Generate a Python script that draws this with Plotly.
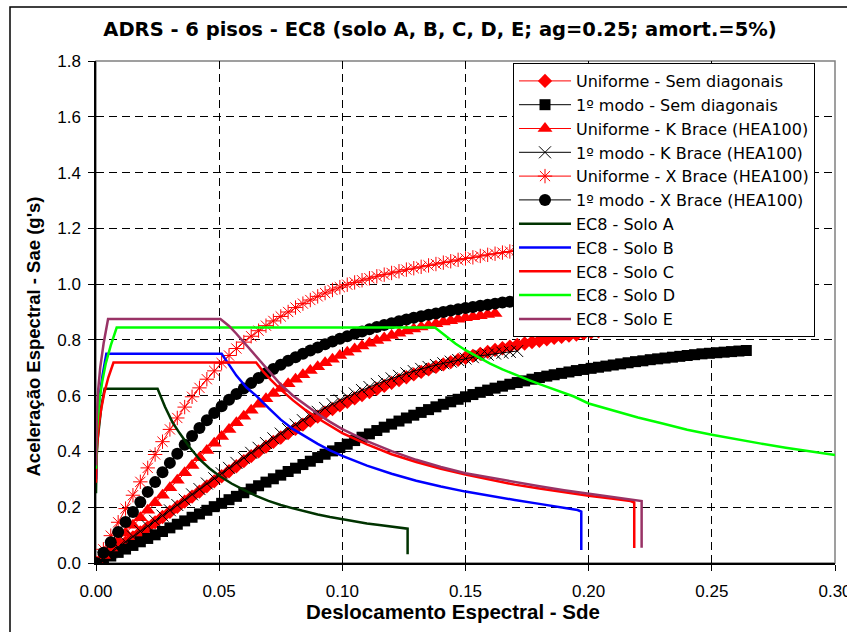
import plotly.graph_objects as go

# ---------------- data ----------------
# spectral displacement steps of the capacity (pushover) curves
sd = [0.000, 0.003, 0.006, 0.009, 0.012, 0.015, 0.018, 0.021, 0.024, 0.027,
      0.030, 0.033, 0.036, 0.039, 0.042, 0.045, 0.048, 0.051, 0.054, 0.057,
      0.060, 0.063, 0.066, 0.069, 0.072, 0.075, 0.078, 0.081, 0.084, 0.087,
      0.090, 0.093, 0.096, 0.099, 0.102, 0.105, 0.108, 0.111, 0.114, 0.117,
      0.120, 0.123, 0.126, 0.129, 0.132, 0.135, 0.138, 0.141, 0.144, 0.147,
      0.150, 0.153, 0.156, 0.159, 0.162, 0.165, 0.168, 0.171, 0.174, 0.177,
      0.180, 0.183, 0.186, 0.189, 0.192, 0.195, 0.198, 0.201, 0.204, 0.207,
      0.210, 0.213, 0.216, 0.219, 0.222, 0.225, 0.228, 0.231, 0.234, 0.237,
      0.240, 0.243, 0.246, 0.249, 0.252, 0.255, 0.258, 0.261, 0.264]

sa_unif_sem = [0.000, 0.018, 0.037, 0.055, 0.073, 0.092, 0.110, 0.128, 0.146, 0.165,
               0.183, 0.201, 0.220, 0.238, 0.256, 0.275, 0.293, 0.311, 0.329, 0.347,
               0.365, 0.383, 0.400, 0.417, 0.434, 0.450, 0.466, 0.481, 0.496, 0.511,
               0.525, 0.539, 0.552, 0.565, 0.578, 0.590, 0.602, 0.613, 0.624, 0.635,
               0.646, 0.656, 0.666, 0.676, 0.685, 0.694, 0.703, 0.712, 0.720, 0.728,
               0.736, 0.743, 0.750, 0.757, 0.764, 0.770, 0.776, 0.782, 0.787, 0.792,
               0.797, 0.802, 0.807, 0.811, 0.815, 0.819, 0.823, 0.827, 0.831, 0.835,
               0.839, 0.843, 0.846, 0.849, 0.852, 0.855]

sa_modo_sem = [0.000, 0.013, 0.025, 0.038, 0.050, 0.063, 0.076, 0.088, 0.101, 0.113,
               0.126, 0.139, 0.151, 0.164, 0.176, 0.189, 0.202, 0.214, 0.227, 0.239,
               0.252, 0.265, 0.277, 0.290, 0.302, 0.315, 0.328, 0.340, 0.353, 0.365,
               0.378, 0.390, 0.402, 0.414, 0.426, 0.439, 0.451, 0.463, 0.475, 0.487,
               0.498, 0.509, 0.520, 0.530, 0.540, 0.550, 0.560, 0.569, 0.578, 0.587,
               0.596, 0.604, 0.612, 0.620, 0.627, 0.634, 0.641, 0.647, 0.653, 0.659,
               0.665, 0.670, 0.675, 0.680, 0.685, 0.690, 0.694, 0.698, 0.702, 0.706,
               0.710, 0.714, 0.718, 0.722, 0.725, 0.729, 0.732, 0.735, 0.738, 0.741,
               0.744, 0.747, 0.750, 0.752, 0.754, 0.756, 0.758, 0.760, 0.762]

sa_unif_k = [0.000, 0.027, 0.054, 0.081, 0.108, 0.135, 0.162, 0.189, 0.216, 0.243,
             0.270, 0.297, 0.324, 0.350, 0.377, 0.403, 0.429, 0.454, 0.479, 0.503,
             0.526, 0.548, 0.569, 0.589, 0.608, 0.626, 0.643, 0.659, 0.675, 0.690,
             0.704, 0.718, 0.731, 0.744, 0.756, 0.767, 0.778, 0.788, 0.798, 0.807,
             0.816, 0.824, 0.832, 0.839, 0.846, 0.852, 0.858, 0.864, 0.869, 0.874,
             0.879, 0.883, 0.887, 0.891, 0.895]

sa_modo_k = [0.000, 0.019, 0.038, 0.057, 0.076, 0.095, 0.114, 0.132, 0.151, 0.170,
             0.189, 0.208, 0.227, 0.246, 0.265, 0.285, 0.304, 0.322, 0.341, 0.359,
             0.377, 0.395, 0.413, 0.430, 0.447, 0.464, 0.480, 0.496, 0.512, 0.527,
             0.542, 0.556, 0.570, 0.583, 0.596, 0.608, 0.620, 0.631, 0.642, 0.652,
             0.662, 0.671, 0.680, 0.688, 0.696, 0.703, 0.710, 0.716, 0.722, 0.728,
             0.733, 0.738, 0.743, 0.747, 0.751, 0.754, 0.757, 0.760]

sa_unif_x = [0.000, 0.049, 0.098, 0.146, 0.195, 0.243, 0.291, 0.341, 0.389, 0.435,
             0.479, 0.520, 0.559, 0.596, 0.628, 0.659, 0.689, 0.717, 0.744, 0.769,
             0.792, 0.813, 0.833, 0.851, 0.868, 0.884, 0.900, 0.916, 0.930, 0.943,
             0.956, 0.968, 0.979, 0.989, 0.998, 1.006, 1.014, 1.021, 1.028, 1.034,
             1.040, 1.046, 1.052, 1.057, 1.062, 1.067, 1.072, 1.077, 1.082, 1.087,
             1.092, 1.096, 1.101, 1.105, 1.109, 1.113, 1.117, 1.121, 1.124, 1.128,
             1.131]

sa_modo_x = [0.000, 0.037, 0.074, 0.111, 0.147, 0.183, 0.219, 0.255, 0.290, 0.325,
             0.359, 0.392, 0.424, 0.455, 0.484, 0.512, 0.538, 0.562, 0.585, 0.606,
             0.626, 0.645, 0.663, 0.680, 0.696, 0.711, 0.725, 0.738, 0.750, 0.762,
             0.773, 0.784, 0.794, 0.804, 0.813, 0.822, 0.830, 0.838, 0.846, 0.853,
             0.860, 0.867, 0.873, 0.879, 0.885, 0.890, 0.895, 0.900, 0.905, 0.910,
             0.914, 0.918, 0.922, 0.926, 0.930, 0.934, 0.937, 0.940, 0.943, 0.946,
             0.949]

# EC8 response spectra (ADRS), ag = 0.25, 5% damping
sd_A = [0.0, 0.00005, 0.00023, 0.0006, 0.00124, 0.00218, 0.0035, 0.0250, 0.0280, 0.0310,
        0.0340, 0.0380, 0.0420, 0.0460, 0.0500, 0.0550, 0.0600, 0.0650, 0.0700, 0.0750,
        0.0800, 0.0850, 0.0900, 0.0950, 0.1000, 0.1050, 0.1100, 0.1150, 0.1200, 0.1265, 0.1265]
sa_A = [0.250, 0.3125, 0.375, 0.4375, 0.500, 0.5625, 0.625, 0.625, 0.560, 0.505,
        0.465, 0.415, 0.372, 0.340, 0.313, 0.285, 0.262, 0.241, 0.223, 0.208,
        0.196, 0.184, 0.174, 0.165, 0.157, 0.149, 0.142, 0.136, 0.130, 0.123, 0.031]

sd_B = [0.0, 0.00007, 0.00028, 0.0007, 0.0015, 0.0027, 0.0042, 0.0510, 0.0540, 0.0570,
        0.0610, 0.0650, 0.0700, 0.0750, 0.0800, 0.0850, 0.0900, 0.0950, 0.1000, 0.1100,
        0.1200, 0.1300, 0.1400, 0.1500, 0.1600, 0.1700, 0.1800, 0.1900, 0.1955, 0.1970, 0.1970]
sa_B = [0.300, 0.375, 0.450, 0.525, 0.600, 0.675, 0.750, 0.750, 0.712, 0.672,
        0.630, 0.600, 0.556, 0.514, 0.480, 0.452, 0.427, 0.404, 0.384, 0.349,
        0.320, 0.295, 0.274, 0.256, 0.240, 0.226, 0.212, 0.199, 0.190, 0.184, 0.047]

sd_C = [0.0, 0.00006, 0.00025, 0.0007, 0.00125, 0.0022, 0.0034, 0.0050, 0.0071, 0.0650,
        0.0680, 0.0710, 0.0750, 0.0800, 0.0850, 0.0900, 0.0950, 0.1000, 0.1100, 0.1200,
        0.1300, 0.1400, 0.1500, 0.1600, 0.1700, 0.1800, 0.1900, 0.2000, 0.2100, 0.2170,
        0.2185, 0.2185]
sa_C = [0.2875, 0.341, 0.395, 0.449, 0.503, 0.557, 0.611, 0.665, 0.719, 0.719,
        0.685, 0.657, 0.622, 0.583, 0.549, 0.519, 0.491, 0.466, 0.425, 0.390,
        0.362, 0.338, 0.317, 0.298, 0.281, 0.267, 0.253, 0.241, 0.230, 0.222,
        0.217, 0.054]

sd_D = [0.0, 0.00007, 0.00029, 0.0008, 0.0015, 0.0026, 0.0040, 0.0060, 0.0084, 0.1376,
        0.1420, 0.1460, 0.1500, 0.1550, 0.1600, 0.1650, 0.1700, 0.1760, 0.1820, 0.1880,
        0.1940, 0.2000, 0.2100, 0.2200, 0.2300, 0.2400, 0.2500, 0.2600, 0.2700, 0.2800,
        0.2900, 0.3000, 0.3100, 0.3200]
sa_D = [0.3375, 0.401, 0.464, 0.527, 0.591, 0.654, 0.717, 0.780, 0.844, 0.844,
        0.812, 0.786, 0.763, 0.738, 0.715, 0.694, 0.675, 0.655, 0.635, 0.615,
        0.597, 0.572, 0.546, 0.522, 0.500, 0.478, 0.460, 0.443, 0.428, 0.413,
        0.399, 0.386, 0.373, 0.361]

sd_E = [0.0, 0.00008, 0.00033, 0.0008, 0.0017, 0.0031, 0.0049, 0.0505, 0.0540, 0.0570,
        0.0610, 0.0650, 0.0700, 0.0750, 0.0800, 0.0850, 0.0900, 0.0950, 0.1000, 0.1100,
        0.1200, 0.1300, 0.1400, 0.1500, 0.1600, 0.1700, 0.1800, 0.1900, 0.2000, 0.2100,
        0.2200, 0.2215, 0.2215]
sa_E = [0.350, 0.438, 0.525, 0.613, 0.700, 0.788, 0.875, 0.875, 0.850, 0.822,
        0.782, 0.742, 0.688, 0.640, 0.600, 0.566, 0.535, 0.506, 0.480, 0.437,
        0.401, 0.370, 0.344, 0.322, 0.306, 0.290, 0.275, 0.261, 0.249, 0.237,
        0.226, 0.222, 0.055]

x_ticks = [0.00, 0.05, 0.10, 0.15, 0.20, 0.25, 0.30]
y_ticks = [0.0, 0.2, 0.4, 0.6, 0.8, 1.0, 1.2, 1.4, 1.6, 1.8]

# ---------------- figure ----------------
FONT = "Liberation Sans, Arial, sans-serif"
WIDE = "DejaVu Sans, Verdana, sans-serif"
W, H = 847, 632
L, R, T, B = 96, 12, 61, 69
pw, ph = W - L - R, H - T - B


def px_x(px):
    return (px - L) / pw


def px_y(py):
    return (H - B - py) / ph


fig = go.Figure()

cap_series = [
    ("Uniforme - Sem diagonais", sa_unif_sem, "#FF0000", dict(symbol="diamond", size=11, color="#FF0000")),
    ("1º modo - Sem diagonais", sa_modo_sem, "#000000", dict(symbol="square", size=11, color="#000000")),
    ("Uniforme - K Brace (HEA100)", sa_unif_k, "#FF0000", dict(symbol="triangle-up", size=13, color="#FF0000")),
    ("1º modo - K Brace (HEA100)", sa_modo_k, "#000000",
     dict(symbol="x-thin-open", size=12, color="#000000", line=dict(color="#000000", width=1))),
    ("Uniforme - X Brace (HEA100)", sa_unif_x, "#FF0000",
     dict(symbol="asterisk-open", size=12, color="#FF0000", line=dict(color="#FF0000", width=1))),
    ("1º modo - X Brace (HEA100)", sa_modo_x, "#000000", dict(symbol="circle", size=12, color="#000000")),
]
for name, ys, col, mk in cap_series:
    fig.add_trace(go.Scatter(x=sd[:len(ys)], y=ys, name=name, mode="lines+markers",
                             line=dict(color=col, width=1), marker=mk))

ec8_series = [
    ("EC8 - Solo A", sd_A, sa_A, "#003300"),
    ("EC8 - Solo B", sd_B, sa_B, "#0000FF"),
    ("EC8 - Solo C", sd_C, sa_C, "#FF0000"),
    ("EC8 - Solo D", sd_D, sa_D, "#00FF00"),
    ("EC8 - Solo E", sd_E, sa_E, "#993366"),
]
for name, xs, ys, col in ec8_series:
    fig.add_trace(go.Scatter(x=xs, y=ys, name=name, mode="lines",
                             line=dict(color=col, width=2.5)))

axis_common = dict(showgrid=True, gridcolor="#000000", gridwidth=1, griddash="8px,5px",
                   zeroline=False, showline=True, linecolor="#000000", linewidth=1.5,
                   ticks="outside", ticklen=6, tickcolor="#000000", tickwidth=1,
                   ticklabeloverflow="allow",
                   tickfont=dict(family=FONT, size=17, color="#000000"))

fig.update_xaxes(range=[0, 0.30], tickvals=x_ticks, tickformat=".2f",
                 ticklabelstandoff=6, **axis_common)
fig.update_yaxes(range=[0, 1.8], tickvals=y_ticks, tickformat=".1f",
                 ticklabelstandoff=4, **axis_common)

fig.update_layout(
    width=W, height=H,
    margin=dict(l=L, r=R, t=T, b=B, autoexpand=False),
    paper_bgcolor="#FFFFFF", plot_bgcolor="#FFFFFF",
    font=dict(family=FONT, color="#000000"),
    title=dict(text="<b>ADRS - 6 pisos - EC8 (solo A, B, C, D, E; ag=0.25; amort.=5%)</b>",
               x=440 / W, xanchor="center", xref="container",
               y=1 - 29 / H, yanchor="middle", yref="container",
               font=dict(family=WIDE, size=19.5, color="#000000")),
    legend=dict(x=px_x(513), y=px_y(63), xanchor="left", yanchor="top",
                bgcolor="#FFFFFF", bordercolor="#000000", borderwidth=1,
                font=dict(family=WIDE, size=16, color="#000000"),
                itemwidth=52, tracegroupgap=0),
    showlegend=True,
    annotations=[
        dict(text="<b>Deslocamento Espectral - Sde</b>", xref="paper", yref="paper",
             x=px_x(452.5), y=px_y(611), xanchor="center", yanchor="middle",
             showarrow=False, font=dict(family=FONT, size=20.5, color="#000000")),
        dict(text="<b>Aceleração Espectral - Sae (g's)</b>", xref="paper", yref="paper",
             x=px_x(33), y=px_y(336.5), xanchor="center", yanchor="middle", textangle=-90,
             showarrow=False, font=dict(family=FONT, size=18.5, color="#000000")),
    ],
    shapes=[
        # plot-area border (grey)
        dict(type="rect", xref="paper", yref="paper", x0=0, x1=1, y0=0, y1=1,
             line=dict(color="#808080", width=1.5), layer="below"),
        # outer chart frame (cropped by the window)
        dict(type="rect", xref="paper", yref="paper",
             x0=px_x(10), x1=px_x(880), y0=px_y(680), y1=px_y(7),
             line=dict(color="#000000", width=1.5)),
    ],
)

fig.write_html("out.html")
